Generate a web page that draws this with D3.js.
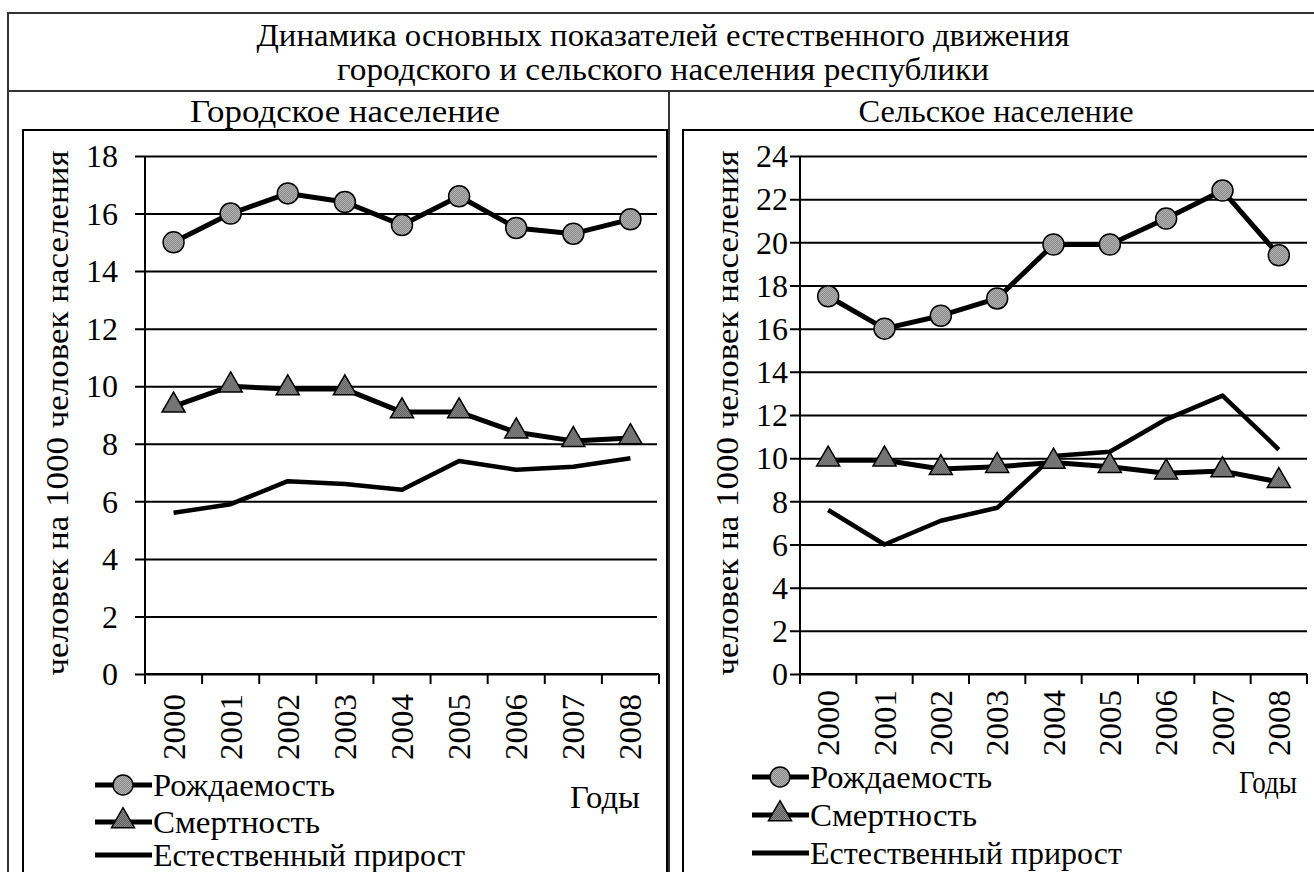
<!DOCTYPE html>
<html lang="ru">
<head>
<meta charset="utf-8">
<script src="https://cdn.jsdelivr.net/npm/d3@7"></script>
</head>
<body style="margin:0">
<div id="chart" style="position:relative; width:1314px; height:872px; overflow:hidden"></div>
<script>
var w = 1314;
var h = 872;
var serif = "Tinos, Liberation Serif, Nimbus Roman, FreeSerif, serif";

// data
var years = ["2000", "2001", "2002", "2003", "2004", "2005", "2006", "2007", "2008"];
var seriesNames = ["Рождаемость", "Смертность", "Естественный прирост"];

var urbanBirth = [15.0, 16.0, 16.7, 16.4, 15.6, 16.6, 15.5, 15.3, 15.8];
var urbanDeath = [9.3, 10.0, 9.9, 9.9, 9.1, 9.1, 8.4, 8.1, 8.2];
var urbanNatural = [5.6, 5.9, 6.7, 6.6, 6.4, 7.4, 7.1, 7.2, 7.5];

var ruralBirth = [17.5, 16.0, 16.6, 17.4, 19.9, 19.9, 21.1, 22.4, 19.4];
var ruralDeath = [9.9, 9.9, 9.5, 9.6, 9.8, 9.6, 9.3, 9.4, 8.9];
var ruralNatural = [7.6, 6.0, 7.1, 7.7, 10.1, 10.3, 11.8, 12.9, 10.4];

var urbanTicks = [0, 2, 4, 6, 8, 10, 12, 14, 16, 18];
var ruralTicks = [0, 2, 4, 6, 8, 10, 12, 14, 16, 18, 20, 22, 24];

// widths the legend texts take in the picture
var legendWidths = [182, 167, 312];

var chart = d3.select("#chart");
var svg = chart
    .append("svg")
    .attr("width", w)
    .attr("height", h)
    .style("position", "absolute")
    .style("left", 0).style("top", 0);

// textured fills for markers
var defs = svg.append("defs");
[["dotGrey", "#8c8c8c", "#b0b0b0"], ["dotDark", "#5e5e5e", "#8a8a8a"]].forEach(function(p) {
    var pat = defs.append("pattern")
        .attr("id", p[0])
        .attr("width", 2).attr("height", 2)
        .attr("patternUnits", "userSpaceOnUse");
    pat.append("rect").attr("width", 2).attr("height", 2).attr("fill", p[1]);
    pat.append("rect").attr("width", 1).attr("height", 1).attr("fill", p[2]);
    pat.append("rect").attr("x", 1).attr("y", 1).attr("width", 1).attr("height", 1).attr("fill", p[2]);
});

// frames
svg.append("rect")
    .attr("x", 8).attr("y", 13)
    .attr("width", 1312).attr("height", 880)
    .attr("fill", "none").attr("stroke", "#333").attr("stroke-width", 2);
svg.append("line")
    .attr("x1", 8).attr("x2", w).attr("y1", 91).attr("y2", 91)
    .attr("stroke", "#333").attr("stroke-width", 2);
svg.append("line")
    .attr("x1", 669).attr("x2", 669).attr("y1", 91).attr("y2", h)
    .attr("stroke", "#333").attr("stroke-width", 2);

function addText(sel, x, y, size, str, anchor, len) {
    var t = sel.append("text")
        .attr("x", x).attr("y", y)
        .attr("text-anchor", anchor || "middle")
        .attr("font-family", serif)
        .style("font-family", serif)
        .attr("font-size", size)
        .attr("fill", "#000")
        .text(str);
    if (len) t.attr("textLength", len).attr("lengthAdjust", "spacingAndGlyphs");
    return t;
}

// rotated text as an html label (reads bottom to top)
function rotText(x, y, size, str, anchor, len) {
    var d = chart.append("div")
        .style("position", "absolute")
        .style("left", x + "px").style("top", y + "px")
        .style("white-space", "nowrap")
        .style("font-family", serif)
        .style("font-size", size + "px")
        .style("line-height", size + "px")
        .style("color", "#000")
        .style("transform-origin", "0 0")
        .text(str);
    var tw = d.node().getBoundingClientRect().width;
    var s = len / tw;
    var shift = anchor === "end" ? len : len / 2;
    d.style("transform", "rotate(-90deg) translate(" + (-shift) + "px," + (-size / 2) + "px) scaleX(" + s + ")");
    return d;
}

addText(svg, 663, 46, 32, "Динамика основных показателей естественного движения", "middle", 813);
addText(svg, 663, 80, 32, "городского и сельского населения республики", "middle", 652);

function drawPanel(opt) {
    var g = svg.append("g");

    addText(g, opt.titleX, 122, 32, opt.title, "middle", opt.titleW);

    g.append("rect")
        .attr("x", opt.boxX).attr("y", 130)
        .attr("width", opt.boxW).attr("height", 800)
        .attr("fill", "none").attr("stroke", "#000").attr("stroke-width", 2);

    var xScale = d3.scaleBand()
        .domain(years)
        .range([opt.left, opt.right])
        .padding(0);

    var yScale = d3.scaleLinear()
        .domain([0, opt.max])
        .range([674, 156]);

    // gridlines from the axis
    var yAxis = d3.axisLeft(yScale)
        .tickValues(opt.ticks)
        .tickSizeInner(opt.gridRight - opt.left + 10)
        .tickSizeOuter(0)
        .tickFormat("");

    var ya = g.append("g")
        .attr("transform", "translate(" + opt.gridRight + ",0)")
        .call(yAxis);
    ya.select(".domain").remove();
    ya.selectAll("line").attr("stroke", "#000").attr("stroke-width", 2);

    // tick labels
    opt.ticks.forEach(function(t) {
        addText(g, opt.labelX, yScale(t), 32, String(t), "end").attr("dy", "0.35em");
    });

    // y axis line
    g.append("line")
        .attr("x1", opt.left).attr("x2", opt.left)
        .attr("y1", yScale(opt.max)).attr("y2", 684)
        .attr("stroke", "#000").attr("stroke-width", 2);

    // x axis line + ticks at category boundaries
    g.append("line")
        .attr("x1", opt.left).attr("x2", opt.right)
        .attr("y1", yScale(0)).attr("y2", yScale(0))
        .attr("stroke", "#000").attr("stroke-width", 2);
    var bounds = years.map(function(d) { return xScale(d); }).concat([opt.right]);
    g.selectAll(".xtick")
        .data(bounds)
        .enter().append("line")
        .attr("x1", function(d) { return d; })
        .attr("x2", function(d) { return d; })
        .attr("y1", yScale(0)).attr("y2", yScale(0) + 10)
        .attr("stroke", "#000").attr("stroke-width", 2);

    years.forEach(function(d) {
        rotText(xScale(d) + xScale.bandwidth() / 2, opt.xLabelY, 32, d, "end", 66);
    });

    rotText(opt.yTitleX, (150 + 675) / 2, 32, "человек на 1000 человек населения", "middle", 525);

    var cx = function(d, i) { return xScale(years[i]) + xScale.bandwidth() / 2; };
    var line = d3.line()
        .x(cx)
        .y(function(d) { return yScale(d); });

    var series = [opt.birth, opt.death, opt.natural];
    var widths = [5, 5, 4.5];
    series.forEach(function(s, k) {
        g.append("path")
            .datum(s)
            .attr("d", line)
            .attr("fill", "none")
            .attr("stroke", "#000")
            .attr("stroke-width", widths[k])
            .attr("stroke-linejoin", "round");
    });

    // markers
    g.selectAll(".birth")
        .data(opt.birth)
        .enter().append("circle")
        .attr("cx", cx)
        .attr("cy", function(d) { return yScale(d); })
        .attr("r", 10.5)
        .attr("fill", "url(#dotGrey)")
        .attr("stroke", "#000").attr("stroke-width", 1.5);

    var tri = d3.symbol().type(d3.symbolTriangle).size(230);
    g.selectAll(".death")
        .data(opt.death)
        .enter().append("path")
        .attr("transform", function(d, i) {
            return "translate(" + cx(d, i) + "," + (yScale(d) - 1) + ")";
        })
        .attr("d", tri)
        .attr("fill", "url(#dotDark)")
        .attr("stroke", "#000").attr("stroke-width", 1.5);

    // legend
    var lg = g.append("g");
    seriesNames.forEach(function(name, k) {
        var y = opt.legendY[k];
        lg.append("line")
            .attr("x1", opt.legendX).attr("x2", opt.legendX + 57)
            .attr("y1", y).attr("y2", y)
            .attr("stroke", "#000").attr("stroke-width", 5);
        if (k === 0) {
            lg.append("circle")
                .attr("cx", opt.legendX + 28).attr("cy", y).attr("r", 10)
                .attr("fill", "url(#dotGrey)")
                .attr("stroke", "#000").attr("stroke-width", 1.5);
        } else if (k === 1) {
            lg.append("path")
                .attr("transform", "translate(" + (opt.legendX + 28) + "," + (y - 1) + ")")
                .attr("d", tri)
                .attr("fill", "url(#dotDark)")
                .attr("stroke", "#000").attr("stroke-width", 1.5);
        }
        addText(lg, opt.legendX + 58, y, 32, name, "start", legendWidths[k]).attr("dy", "0.35em");
    });

    addText(g, opt.yearsX, opt.yearsY, 32, "Годы", "middle", opt.yearsW).attr("dy", "0.35em");
}

drawPanel({
    title: "Городское население", titleW: 310,
    titleX: 345,
    boxX: 23, boxW: 644,
    left: 145, right: 659, gridRight: 657,
    labelX: 118,
    max: 18, ticks: urbanTicks,
    yTitleX: 57, xLabelY: 694,
    birth: urbanBirth, death: urbanDeath, natural: urbanNatural,
    legendX: 95, legendY: [785, 822, 855],
    yearsX: 605, yearsY: 797, yearsW: 70
});

drawPanel({
    title: "Сельское население", titleW: 275,
    titleX: 996,
    boxX: 683, boxW: 660,
    left: 800, right: 1307, gridRight: 1307,
    labelX: 788,
    max: 24, ticks: ruralTicks,
    yTitleX: 727, xLabelY: 690,
    birth: ruralBirth, death: ruralDeath, natural: ruralNatural,
    legendX: 752, legendY: [777, 815, 853],
    yearsX: 1268, yearsY: 782, yearsW: 58
});
</script>
</body>
</html>
